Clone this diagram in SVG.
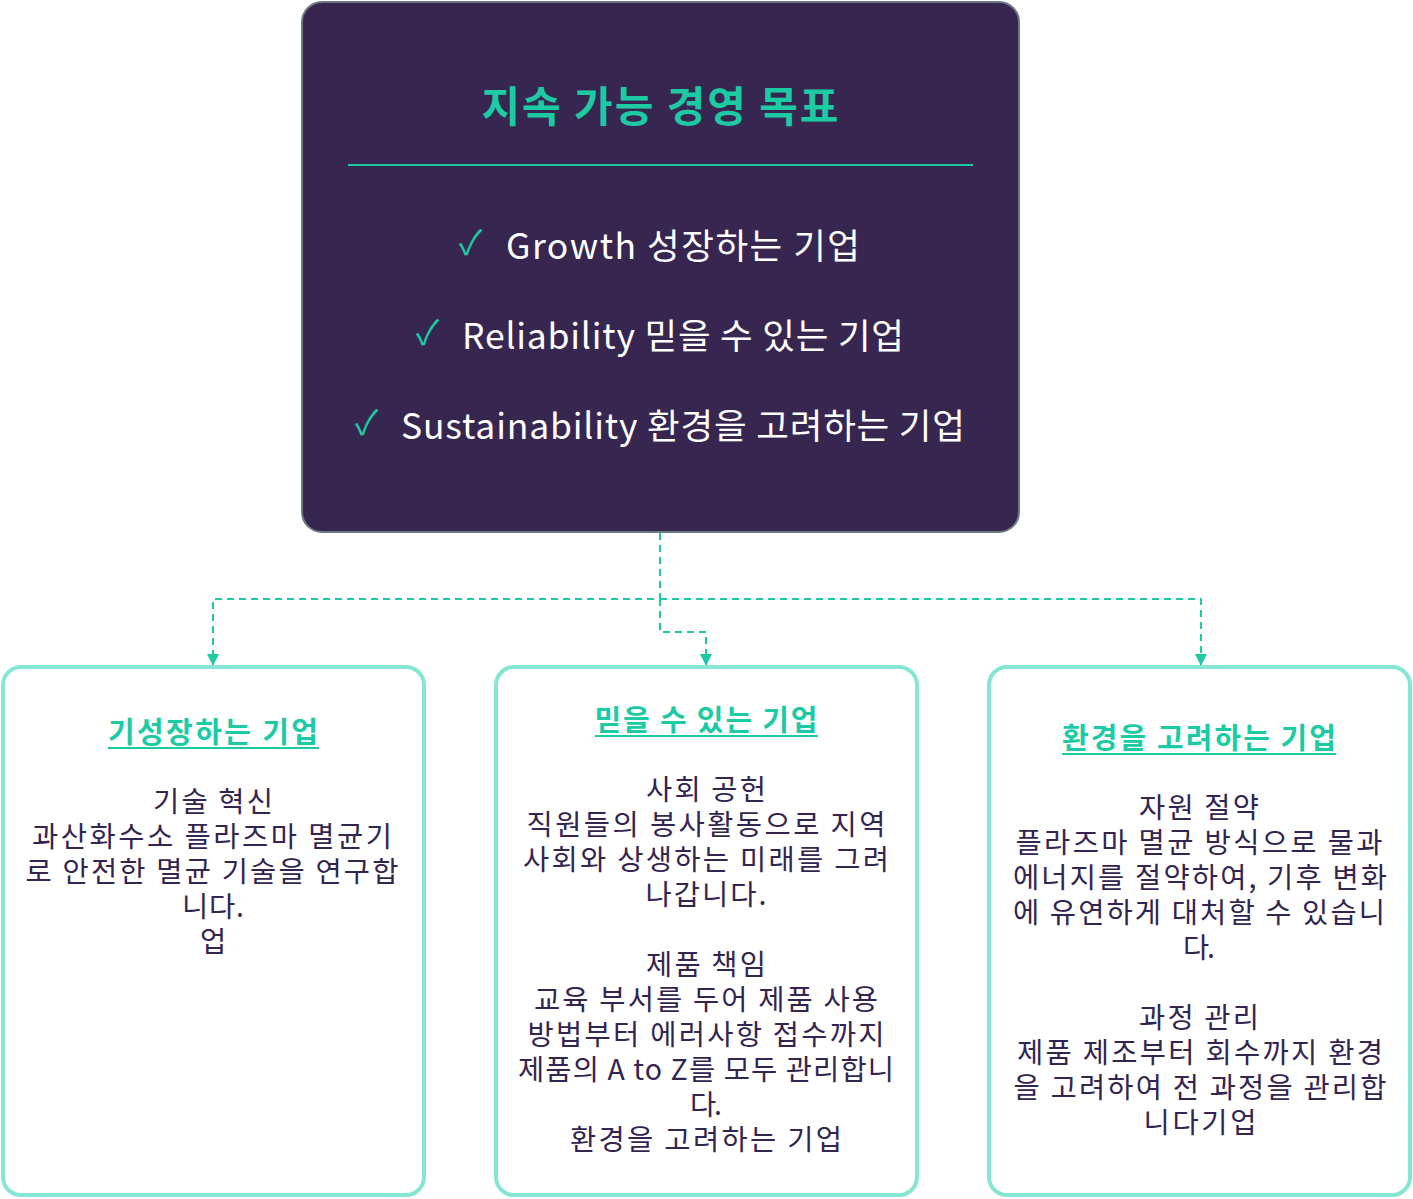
<svg xmlns="http://www.w3.org/2000/svg" width="1413" height="1199" viewBox="0 0 1413 1199">
<style>
text{font-family:"Noto Sans CJK KR","Noto Sans",sans-serif}
.ttl{fill:#1ccaa3;font-weight:bold;font-size:42px;text-anchor:middle}
.chk{fill:#ffffff;font-size:35.5px}
.ck{fill:#1ccaa3;font-size:34px}
.sub{fill:#1ccaa3;font-weight:bold;font-size:29px;text-anchor:middle}
.ul{stroke:#1ccaa3;stroke-width:2}
.b{fill:#33254f;font-size:28.5px;text-anchor:middle}
.box{fill:#ffffff;stroke:#86e6d4;stroke-width:4}
.conn{fill:none;stroke:#1ccaa3;stroke-width:2;stroke-dasharray:7,5}
</style>
<defs>
<marker id="arr" viewBox="0 0 10 10" refX="10" refY="5" markerWidth="12" markerHeight="12" markerUnits="userSpaceOnUse" orient="auto">
<path d="M0,0 L10,5 L0,10 z" fill="#1ccaa3"/>
</marker>
</defs>
<rect width="1413" height="1199" fill="#ffffff"/>
<g id="goal">
<rect x="302" y="2" width="717" height="530" rx="20" fill="#372750" stroke="#6b7a80" stroke-width="2"/>
<text class="ttl" x="660" y="122" textLength="357" lengthAdjust="spacing">지속 가능 경영 목표</text>
<line x1="348" y1="165" x2="973" y2="165" stroke="#1ccaa3" stroke-width="2"/>
<text class="ck" x="459" y="255">✓</text>
<text class="chk" x="506" y="259" textLength="354" lengthAdjust="spacing">Growth 성장하는 기업</text>
<text class="ck" x="416" y="345">✓</text>
<text class="chk" x="462" y="349" textLength="442" lengthAdjust="spacing">Reliability 믿을 수 있는 기업</text>
<text class="ck" x="355" y="435">✓</text>
<text class="chk" x="401" y="439" textLength="564" lengthAdjust="spacing">Sustainability 환경을 고려하는 기업</text>
</g>
<g id="connectors">
<path class="conn" d="M660,533 V599 H213 V666" marker-end="url(#arr)"/>
<path class="conn" d="M660,599 V632 H706 V666" marker-end="url(#arr)"/>
<path class="conn" d="M660,599 H1201 V666" marker-end="url(#arr)"/>
</g>
<g id="growth">
<rect class="box" x="3" y="667" width="421" height="528" rx="18"/>
<text class="sub" x="213" y="743" textLength="210" lengthAdjust="spacing">기성장하는 기업</text>
<line class="ul" x1="108" y1="748" x2="319" y2="748"/>
<text class="b" x="213" y="812" textLength="120" lengthAdjust="spacing">기술 혁신</text>
<text class="b" x="212" y="847" textLength="360" lengthAdjust="spacing">과산화수소 플라즈마 멸균기</text>
<text class="b" x="212" y="882" textLength="373" lengthAdjust="spacing">로 안전한 멸균 기술을 연구합</text>
<text class="b" x="213" y="917" textLength="62" lengthAdjust="spacing">니다.</text>
<text class="b" x="213" y="952">업</text>
</g>
<g id="reliability">
<rect class="box" x="496" y="667" width="421" height="528" rx="18"/>
<text class="sub" x="706" y="731" textLength="223" lengthAdjust="spacing">믿을 수 있는 기업</text>
<line class="ul" x1="595" y1="736" x2="818" y2="736"/>
<text class="b" x="706" y="800" textLength="120" lengthAdjust="spacing">사회 공헌</text>
<text class="b" x="706" y="835" textLength="359" lengthAdjust="spacing">직원들의 봉사활동으로 지역</text>
<text class="b" x="706" y="870" textLength="366" lengthAdjust="spacing">사회와 상생하는 미래를 그려</text>
<text class="b" x="706" y="905" textLength="121" lengthAdjust="spacing">나갑니다.</text>
<text class="b" x="706" y="975" textLength="120" lengthAdjust="spacing">제품 책임</text>
<text class="b" x="706" y="1010" textLength="344" lengthAdjust="spacing">교육 부서를 두어 제품 사용</text>
<text class="b" x="706" y="1045" textLength="357" lengthAdjust="spacing">방법부터 에러사항 접수까지</text>
<text class="b" x="706" y="1080" textLength="376" lengthAdjust="spacing">제품의 A to Z를 모두 관리합니</text>
<text class="b" x="706" y="1115" textLength="32" lengthAdjust="spacing">다.</text>
<text class="b" x="706" y="1150" textLength="272" lengthAdjust="spacing">환경을 고려하는 기업</text>
</g>
<g id="sustainability">
<rect class="box" x="989" y="667" width="421" height="528" rx="18"/>
<text class="sub" x="1199" y="749" textLength="274" lengthAdjust="spacing">환경을 고려하는 기업</text>
<line class="ul" x1="1062" y1="754" x2="1336" y2="754"/>
<text class="b" x="1199" y="818" textLength="120" lengthAdjust="spacing">자원 절약</text>
<text class="b" x="1199" y="853" textLength="367" lengthAdjust="spacing">플라즈마 멸균 방식으로 물과</text>
<text class="b" x="1200" y="888" textLength="374" lengthAdjust="spacing">에너지를 절약하여, 기후 변화</text>
<text class="b" x="1199" y="923" textLength="372" lengthAdjust="spacing">에 유연하게 대처할 수 있습니</text>
<text class="b" x="1199" y="958" textLength="32" lengthAdjust="spacing">다.</text>
<text class="b" x="1199" y="1028" textLength="120" lengthAdjust="spacing">과정 관리</text>
<text class="b" x="1200" y="1063" textLength="366" lengthAdjust="spacing">제품 제조부터 회수까지 환경</text>
<text class="b" x="1200" y="1098" textLength="373" lengthAdjust="spacing">을 고려하여 전 과정을 관리합</text>
<text class="b" x="1200" y="1133" textLength="113" lengthAdjust="spacing">니다기업</text>
</g>
</svg>
